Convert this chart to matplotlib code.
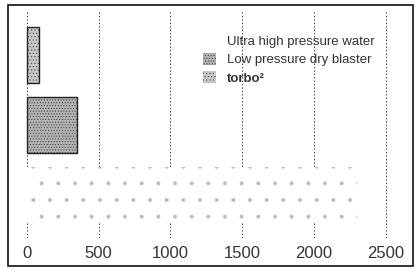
import matplotlib
matplotlib.use("Agg")
import matplotlib.pyplot as plt
from matplotlib.patches import Rectangle

plt.rcParams["font.family"] = ["Liberation Sans", "DejaVu Sans"]
plt.rcParams["hatch.linewidth"] = 0.4

# data
categories = ["Ultra high pressure water", "Low pressure dry blaster", "torbo\u00b2"]
values = [2300, 350, 85]
xticks = [0, 500, 1000, 1500, 2000, 2500]

faces = ["white", "#b4b4b4", "#c8c8c8"]
hatches = [".", "......", "....."]
hatch_cols = ["#bdbdbd", "#333333", "#444444"]
edges = ["none", "#222222", "#222222"]

fig = plt.figure(figsize=(4.16, 2.70), dpi=100)
ax = fig.add_axes([8 / 416, 1 - 238 / 270, 405 / 416, 226 / 270])

for i, (cat, v) in enumerate(zip(categories, values)):
    ax.barh(i, v, height=0.8, left=0, color=faces[i], hatch=hatches[i],
            edgecolor=hatch_cols[i], linewidth=0, label=cat, zorder=2)
    if edges[i] != "none":
        ax.barh(i, v, height=0.8, left=0, fill=False, edgecolor=edges[i],
                linewidth=1.0, zorder=3)

ax.set_xlim(-132, 2690)
ax.set_ylim(-0.61, 2.61)
ax.set_xticks(xticks)
ax.set_xticklabels([str(t) for t in xticks], fontsize=12, color="#333333")
ax.set_yticks([])
ax.tick_params(axis="x", length=0, pad=6)
for s in ax.spines.values():
    s.set_visible(False)
ax.grid(axis="x", linestyle=(0, (1.5, 2)), color="#444444", linewidth=0.7, zorder=1)

leg = ax.legend(loc="upper left", bbox_to_anchor=(0.481, 0.90), frameon=False,
                fontsize=9.5, handlelength=1.0, handleheight=1.0,
                handletextpad=0.8, labelspacing=0.38, borderpad=0,
                borderaxespad=0, labelcolor="#333333")
leg.get_texts()[2].set_fontweight("bold")

# scanned page frame
fig.patches.append(Rectangle((8 / 416, 4 / 270), 405 / 416, 261 / 270,
                             transform=fig.transFigure, fill=False,
                             edgecolor="#111111", linewidth=1.2))

fig.savefig("out.png", dpi=100)
